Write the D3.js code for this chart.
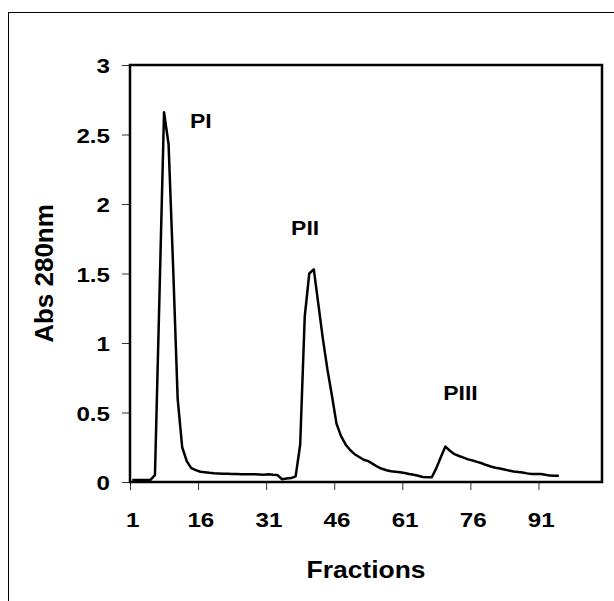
<!DOCTYPE html>
<html>
<head>
<meta charset="utf-8">
<script src="https://d3js.org/d3.v7.min.js"></script>
<style>
  html, body { margin: 0; padding: 0; background: #fff; }
  svg { display: block; }
  text { font-family: "Liberation Sans", Arial, sans-serif; font-weight: bold; fill: #000; }
</style>
</head>
<body>
<script>
// ---- data ----
const fractions = d3.range(1, 96); // fraction numbers 1..95
const absorbance = [
  0.015, 0.015, 0.015, 0.015, 0.015, 0.05, 1.35, 2.66, 2.43, 1.55,
  0.60, 0.25, 0.15, 0.10, 0.085, 0.074, 0.070, 0.066, 0.063, 0.062,
  0.060, 0.060, 0.058, 0.057, 0.056, 0.055, 0.056, 0.055, 0.054, 0.053,
  0.055, 0.052, 0.050, 0.020, 0.025, 0.028, 0.040, 0.27, 1.19, 1.50,
  1.53, 1.28, 1.03, 0.81, 0.62, 0.42, 0.33, 0.27, 0.23, 0.20,
  0.18, 0.16, 0.15, 0.13, 0.11, 0.095, 0.085, 0.078, 0.074, 0.070,
  0.065, 0.058, 0.052, 0.045, 0.036, 0.034, 0.034, 0.10, 0.18, 0.255,
  0.225, 0.20, 0.187, 0.175, 0.163, 0.155, 0.145, 0.135, 0.122, 0.112,
  0.103, 0.097, 0.090, 0.082, 0.076, 0.072, 0.068, 0.062, 0.058, 0.058,
  0.057, 0.052, 0.046, 0.045, 0.045
];
const xTickLabels = ["1", "16", "31", "46", "61", "76", "91"];
const yTicks = [0, 0.5, 1, 1.5, 2, 2.5, 3];
const peakLabels = [
  { name: "PI",   fraction: 13.2, value: 2.55 },
  { name: "PII",  fraction: 35.5, value: 1.78 },
  { name: "PIII", fraction: 69,   value: 0.59 }
];
const nCategories = 104;
const xTitle = "Fractions";
const yTitle = "Abs 280nm";

// ---- layout ----
const W = 614, H = 601;
const plot = { left: 130, top: 65, right: 602, bottom: 482 };
const SX = 1.15; // horizontal stretch of the reference's lettering

const svg = d3.select("body").append("svg").attr("width", W).attr("height", H);

// outer chart border
svg.append("rect")
  .attr("x", 8.5).attr("y", 12.5).attr("width", 700).attr("height", 700)
  .attr("fill", "none").attr("stroke", "#000").attr("stroke-width", 1);

// scales: category i sits at the centre of its band (i - 0.5)
const x = d3.scaleLinear().domain([0, nCategories]).range([plot.left, plot.right]);
const y = d3.scaleLinear().domain([0, 3]).range([plot.bottom, plot.top]);
const band = x(1) - x(0);

// y axis
const yAxis = svg.append("g").attr("transform", `translate(${plot.left},0)`)
  .call(d3.axisLeft(y).tickValues(yTicks).tickSize(8).tickPadding(12)
    .tickFormat(d => String(d)));
yAxis.select(".domain").remove();
yAxis.selectAll(".tick line").attr("stroke", "#333").attr("stroke-width", 1);
yAxis.selectAll(".tick text")
  .attr("x", null).attr("dy", "0.36em")
  .attr("transform", `translate(-20,0) scale(${SX},1)`)
  .attr("text-anchor", "end")
  .style("font-family", "'Liberation Sans', Arial, sans-serif")
  .style("font-weight", "bold").style("font-size", "21px");

// x axis (ticks at category boundaries, labels centred on the category)
const xTickVals = xTickLabels.map(l => +l - 1);
const xAxis = svg.append("g").attr("transform", `translate(0,${plot.bottom})`)
  .call(d3.axisBottom(x).tickValues(xTickVals).tickSize(8)
    .tickFormat((d, i) => xTickLabels[i]));
xAxis.select(".domain").remove();
xAxis.selectAll(".tick line").attr("stroke", "#333").attr("stroke-width", 1);
xAxis.selectAll(".tick text")
  .attr("y", null).attr("dy", 0)
  .attr("transform", `translate(${band / 2},45) scale(${SX},1)`)
  .style("font-family", "'Liberation Sans', Arial, sans-serif")
  .style("font-weight", "bold").style("font-size", "21px");

// data line
const line = d3.line()
  .x((d, i) => x(fractions[i] - 0.5))
  .y(d => y(d));
svg.append("path").datum(absorbance)
  .attr("fill", "none").attr("stroke", "#000").attr("stroke-width", 2.5)
  .attr("stroke-linejoin", "round")
  .attr("d", line);

// plot frame
svg.append("rect")
  .attr("x", plot.left).attr("y", plot.top)
  .attr("width", plot.right - plot.left).attr("height", plot.bottom - plot.top)
  .attr("fill", "none").attr("stroke", "#000").attr("stroke-width", 2.5);

// peak labels
svg.selectAll("text.peak").data(peakLabels).enter().append("text")
  .attr("class", "peak")
  .attr("transform", d => `translate(${x(d.fraction)},${y(d.value)}) scale(${SX},1)`)
  .attr("font-size", 20)
  .text(d => d.name);

// axis titles
svg.append("text")
  .attr("transform", `translate(${(plot.left + plot.right) / 2},578) scale(${SX},1)`)
  .attr("text-anchor", "middle").attr("font-size", 23)
  .text(xTitle);
svg.append("text")
  .attr("transform", `translate(53,${(plot.top + plot.bottom) / 2}) rotate(-90)`)
  .attr("text-anchor", "middle").attr("font-size", 26)
  .text(yTitle);
</script>
</body>
</html>
